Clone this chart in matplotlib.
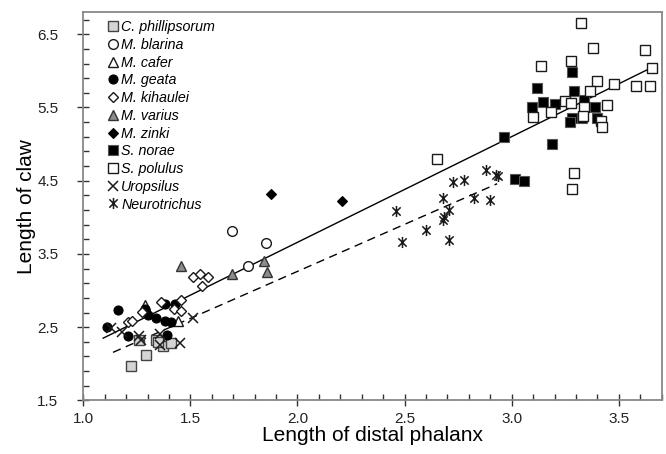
import matplotlib.pyplot as plt
import numpy as np
from matplotlib.path import Path

plt.rcParams['font.family'] = ['Liberation Sans', 'DejaVu Sans']

# species data: (length of distal phalanx, length of claw)
phill_x = [1.225, 1.295, 1.26, 1.34, 1.37, 1.41, 1.35]
phill_y = [1.97, 2.12, 2.33, 2.32, 2.24, 2.29, 2.30]

blarina_x = [1.696, 1.855, 1.769]
blarina_y = [3.81, 3.65, 3.33]

cafer_x = [1.29, 1.44]
cafer_y = [2.80, 2.59]

geata_x = [1.11, 1.16, 1.21, 1.29, 1.30, 1.34, 1.38, 1.38, 1.43, 1.41, 1.39]
geata_y = [2.50, 2.73, 2.38, 2.75, 2.66, 2.63, 2.59, 2.82, 2.81, 2.57, 2.40]

kihaulei_x = [1.207, 1.229, 1.272, 1.362, 1.424, 1.458, 1.458, 1.513, 1.547, 1.582, 1.552]
kihaulei_y = [2.57, 2.59, 2.71, 2.85, 2.75, 2.87, 2.72, 3.18, 3.22, 3.18, 3.06]

varius_x = [1.458, 1.694, 1.842, 1.857]
varius_y = [3.34, 3.23, 3.40, 3.25]

zinki_x = [1.878, 2.207]
zinki_y = [4.32, 4.22]

norae_x = [2.965, 3.016, 3.058, 3.190, 3.116, 3.144, 3.097, 3.203, 3.280, 3.293,
           3.336, 3.280, 3.271, 3.327, 3.389, 3.397]
norae_y = [5.09, 4.52, 4.49, 5.00, 5.76, 5.58, 5.50, 5.55, 5.98, 5.73,
           5.60, 5.36, 5.30, 5.36, 5.51, 5.36]

polulus_x = [3.322, 3.381, 3.622, 3.136, 3.276, 3.656, 3.400, 3.478, 3.579, 3.645,
             3.366, 3.249, 3.276, 3.338, 3.446, 3.183, 3.100, 3.333, 3.416, 3.420,
             3.291, 3.280, 2.650]
polulus_y = [6.66, 6.31, 6.28, 6.06, 6.13, 6.04, 5.86, 5.82, 5.79, 5.79,
             5.73, 5.59, 5.56, 5.51, 5.53, 5.44, 5.37, 5.39, 5.31, 5.23,
             4.60, 4.39, 4.79]

uropsilus_x = [1.13, 1.18, 1.26, 1.27, 1.36, 1.36, 1.45, 1.51]
uropsilus_y = [2.49, 2.44, 2.38, 2.32, 2.41, 2.25, 2.28, 2.63]

neuro_x = [2.460, 2.488, 2.600, 2.678, 2.724, 2.775, 2.678, 2.685, 2.709, 2.705,
           2.825, 2.880, 2.929, 2.934, 2.899]
neuro_y = [4.09, 3.66, 3.83, 4.27, 4.48, 4.51, 3.96, 4.00, 4.10, 3.69,
           4.27, 4.65, 4.58, 4.56, 4.23]

# regression lines: slope, intercept, x range
solid_fit = [1.443, 0.773]
solid_range = [1.093, 3.65]
dashed_fit = [1.284, 0.694]
dashed_range = [1.139, 2.932]

# asterisk-like marker: vertical bar plus an X
star_marker = Path([(0, -1), (0, 1), (-0.75, -0.75), (0.75, 0.75), (-0.75, 0.75), (0.75, -0.75)],
                   [Path.MOVETO, Path.LINETO, Path.MOVETO, Path.LINETO, Path.MOVETO, Path.LINETO])

fig = plt.figure(figsize=(6.66, 4.54), dpi=100)
ax = fig.add_axes([0.125, 0.118, 0.8685, 0.855])

ec = '#1a1a1a'
series = [
    (phill_x, phill_y, 'C. phillipsorum', dict(marker='s', ms=7.5, mfc='#d4d4d4', mec='#444444', mew=1.0)),
    (blarina_x, blarina_y, 'M. blarina', dict(marker='o', ms=7, mfc='white', mec=ec, mew=1.0)),
    (cafer_x, cafer_y, 'M. cafer', dict(marker='^', ms=7, mfc='white', mec=ec, mew=1.0)),
    (geata_x, geata_y, 'M. geata', dict(marker='o', ms=6.5, mfc='black', mec='black', mew=0.8)),
    (kihaulei_x, kihaulei_y, 'M. kihaulei', dict(marker='D', ms=5, mfc='white', mec=ec, mew=1.0)),
    (varius_x, varius_y, 'M. varius', dict(marker='^', ms=7, mfc='#8c8c8c', mec='#333333', mew=1.0)),
    (zinki_x, zinki_y, 'M. zinki', dict(marker='D', ms=5, mfc='black', mec='black', mew=0.8)),
    (norae_x, norae_y, 'S. norae', dict(marker='s', ms=7, mfc='black', mec='#555555', mew=0.8)),
    (polulus_x, polulus_y, 'S. polulus', dict(marker='s', ms=7, mfc='white', mec=ec, mew=1.0)),
    (uropsilus_x, uropsilus_y, 'Uropsilus', dict(marker='x', ms=7, mec=ec, mew=1.1)),
    (neuro_x, neuro_y, 'Neurotrichus', dict(marker=star_marker, ms=8, mec=ec, mew=1.1)),
]

xs = np.array(solid_range)
ax.plot(xs, solid_fit[0] * xs + solid_fit[1], color='black', lw=1.0, zorder=1)
xd = np.array(dashed_range)
ax.plot(xd, dashed_fit[0] * xd + dashed_fit[1], color='black', lw=1.0,
        dashes=(6, 4), zorder=1)

for x, y, name, style in series:
    ax.plot(x, y, ls='none', label=name, zorder=3, **style)

ax.set_xlim(1.0, 3.7)
ax.set_ylim(1.5, 6.8)
ax.set_xticks(np.arange(1.0, 3.51, 0.5))
ax.set_yticks(np.arange(1.5, 6.51, 1.0))
ax.set_xticks(np.arange(1.0, 3.71, 0.1), minor=True)
ax.set_yticks(np.arange(1.5, 6.81, 0.2), minor=True)
ax.xaxis.set_major_formatter(plt.FormatStrFormatter('%.1f'))
ax.yaxis.set_major_formatter(plt.FormatStrFormatter('%.1f'))

for s in ax.spines.values():
    s.set_color('#888888')
    s.set_linewidth(1.3)
ax.tick_params(which='major', direction='inout', length=8, width=1.0, color='#333333',
               labelsize=11, labelcolor='#222222')
ax.tick_params(axis='x', which='major', pad=4)
ax.tick_params(axis='y', which='major', pad=14)
ax.tick_params(which='minor', direction='in', length=4, width=1.0, color='#333333')

ax.set_xlabel('Length of distal phalanx', fontsize=15, labelpad=0)
ax.set_ylabel('Length of claw', fontsize=15, labelpad=1)

leg = ax.legend(loc='upper left', bbox_to_anchor=(0.032, 0.994), frameon=False,
                numpoints=1, handlelength=0.8, handletextpad=0.15,
                labelspacing=0.26, borderaxespad=0, prop={'size': 10.3, 'style': 'italic'})

fig.savefig('out.png', dpi=100)
